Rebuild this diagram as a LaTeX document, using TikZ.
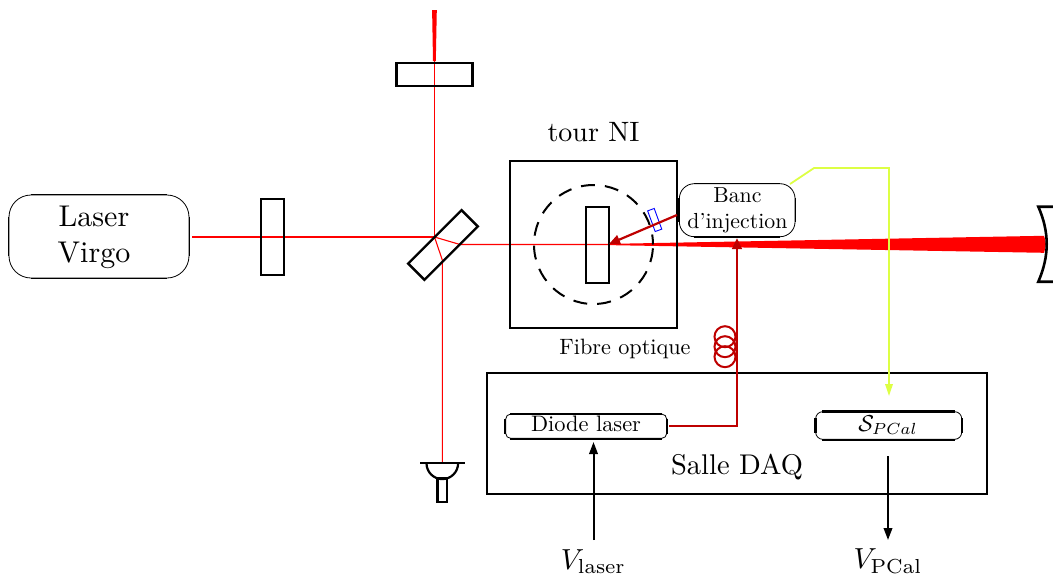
\RequirePackage{fix-cm}
\documentclass[tikz,border=0pt]{standalone}
\usepackage{graphicx}
\usetikzlibrary{arrows.meta,calc}
\definecolor{fibre}{RGB}{190,0,0}
\definecolor{sig}{RGB}{221,255,68}
% text set at 10pt design size and enlarged
\newcommand{\tx}[2]{\scalebox{#1}{\normalsize\begin{tabular}{@{}c@{}}#2\end{tabular}}}
\tikzset{
  beam/.style={red,line width=1.1pt},
  optic/.style={draw=black,line width=2.4pt,inner sep=0pt},
  frame/.style={draw=black,line width=2.2pt,inner sep=0pt},
  roundbox/.style={draw=black,line width=0.8pt,inner sep=0pt,align=center},
  edgeline/.style={black,line width=#1},
  fibreline/.style={fibre,line width=2.6pt},
  tipfibre/.style={-{Triangle[length=11pt,width=9.5pt]}},
  sigline/.style={sig,line width=1.8pt,-{Triangle[length=12pt,width=7.5pt]}},
  volt/.style={black,line width=2pt,-{Triangle[length=12pt,width=8.5pt]}},
  label/.style={inner sep=0pt}
}
% thicker straight sides on a rounded node
\newcommand{\sides}[3]{%
  \draw[edgeline=#3] ([xshift=#2]#1.north west) -- ([xshift=-#2]#1.north east);
  \draw[edgeline=#3] ([xshift=#2]#1.south west) -- ([xshift=-#2]#1.south east);
  \draw[edgeline=#3] ([yshift=-#2]#1.north west) -- ([yshift=#2]#1.south west);
  \draw[edgeline=#3] ([yshift=-#2]#1.north east) -- ([yshift=#2]#1.south east);
}
\begin{document}
\begin{tikzpicture}[x=1pt,y=-1pt]
\useasboundingbox (0,0) rectangle (1053,579);

% named coordinates of the beams
\coordinate (laserout) at (192,237);
\coordinate (bsa) at (434.5,237);
\coordinate (bsb) at (442.3,260);
\coordinate (bsc) at (460,244.5);
\coordinate (top) at (434.5,60);
\coordinate (detin) at (442.3,463);
\coordinate (inmirror) at (608,244.5);

% red beams
\draw[beam] (laserout) -- (bsa) -- (top);
\draw[beam] (bsa) -- (bsb) -- (detin);
\draw[beam] (bsa) -- (bsc) -- (inmirror);
\fill[red] (432.1,10) -- (436.8,10) -- (435.8,61) -- (433,61) -- cycle;
\fill[red] (608,243.9) -- (1044,235.8) .. controls (1046.5,244) .. (1044,252.8) -- (608,245.1) -- cycle;

% optics
\node[optic,minimum width=23pt,minimum height=76pt] (plate) at (272.5,237) {};
\node[optic,minimum width=76pt,minimum height=23pt] (pick) at (434.5,74.5) {};
\node[optic,minimum width=75.5pt,minimum height=23pt,rotate=45] (bs) at (443,245) {};
\node[frame,minimum width=167pt,minimum height=167pt] (tower) at (593.5,244.5) {};
\node[draw=black,line width=2pt,dash pattern=on 14pt off 10pt,dash phase=4pt,circle,inner sep=0pt,minimum size=119pt] (vac) at (593.5,244.5) {};
\node[optic,minimum width=23pt,minimum height=76pt] (ni) at (597.3,244.7) {};
\node[draw=blue,line width=0.9pt,inner sep=0pt,minimum width=7pt,minimum height=22pt,rotate=20] (lens) at (654.7,220) {};

% end mirror
\draw[black,line width=2.6pt,line join=miter] (1053,206.7) -- (1038.3,206.7) .. controls (1049.5,232) and (1049.5,256) .. (1038.3,281.7) -- (1053,281.7);

% detector
\coordinate (detl) at (420,463.3);
\coordinate (detr) at (465,463.3);
\draw[black,line width=2.2pt] (detl) -- (detr);
\draw[black,line width=2.2pt] (426.5,463.3) arc[start angle=180,end angle=0,radius=15.8];
\node[optic,line width=2.2pt,minimum width=9.5pt,minimum height=24pt] (dettube) at (442.3,490) {};

% boxes
\node[roundbox,rounded corners=22pt,minimum width=180pt,minimum height=83pt] (laser) at (99,236.5) {};
\sides{laser}{22pt}{1.6pt}
\node[label] (lasertext) at (94,237.5) {\tx{3}{Laser\\Virgo}};
\node[roundbox,rounded corners=15pt,minimum width=115.7pt,minimum height=53pt] (banc) at (737.2,210.2) {};
\sides{banc}{15pt}{1.6pt}
\node[label] (banctext) at (737.4,210.6) {\tx{2.18}{Banc\\d'injection}};
\node[frame,minimum width=499.4pt,minimum height=121pt] (daq) at (737,433.8) {};
\node[roundbox,rounded corners=5pt,minimum width=161pt,minimum height=24.3pt] (diode) at (586.2,426.2) {};
\sides{diode}{5pt}{1.8pt}
\node[label] (diodetext) at (586,426.2) {\tx{2.24}{Diode laser}};
\node[roundbox,rounded corners=7pt,minimum width=146pt,minimum height=27.6pt] (spcal) at (888.7,425.5) {};
\sides{spcal}{7pt}{2.4pt}
\node[label] (spcaltext) at (888,426) {\tx{2.3}{$\mathcal{S}_{PCal}$}};

% labels
\node[label] (tour) at (593.5,134.5) {\tx{2.8}{tour NI}};
\node[label] (fibre) at (625,349) {\tx{2.22}{Fibre optique}};
\node[label] (salle) at (737,468) {\tx{2.85}{Salle DAQ}};
\node[label] (vlaser) at (593.5,562.5) {\tx{2.9}{$V_{\mathrm{laser}}$}};
\node[label] (vpcal) at (888,562) {\tx{2.9}{$V_{\mathrm{PCal}}$}};

% fibre
\coordinate (fstart) at (669,426);
\coordinate (fcorner) at (737,426);
\coordinate (bancb) at (737,238);
\coordinate (bancl) at (677,215);
\coordinate (nifront) at (609,244);
\draw[fibreline,tipfibre] (fstart) -- (fcorner) -- (bancb);
\draw[fibre,line width=2.2pt,tipfibre] (bancl) -- (nifront);
\foreach \yy/\nn in {336.7/a,346.7/b,356.7/c}
  \node[draw=fibre,line width=2pt,circle,inner sep=0pt,minimum size=21pt] (coil\nn) at (725,\yy) {};

% detection line
\coordinate (s1) at (790,184);
\coordinate (s2) at (814,168);
\coordinate (s3) at (889,168);
\coordinate (s4) at (889,396);
\draw[sigline] (s1) -- (s2) -- (s3) -- (s4);

% voltages
\coordinate (v1a) at (593.5,540);
\coordinate (v1b) at (593.5,442);
\coordinate (v2a) at (888,456);
\coordinate (v2b) at (888,540);
\draw[volt] (v1a) -- (v1b);
\draw[volt] (v2a) -- (v2b);
\end{tikzpicture}
\end{document}
